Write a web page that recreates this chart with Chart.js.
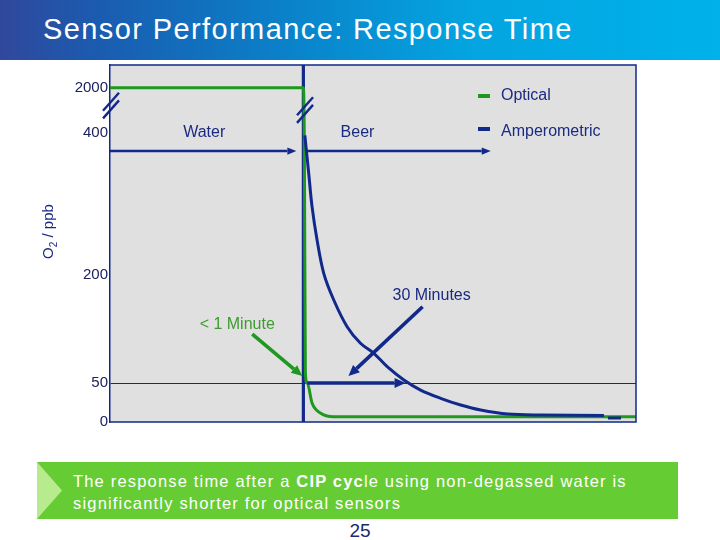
<!DOCTYPE html>
<html><head><meta charset="utf-8">
<script src="https://cdn.jsdelivr.net/npm/chart.js@4.4.1/dist/chart.umd.min.js"></script>
<style>
html,body{margin:0;padding:0;background:#fff;width:720px;height:540px;overflow:hidden;font-family:'Liberation Sans',Arial,sans-serif;}
#title{position:absolute;left:0;top:0;width:720px;height:60px;background:linear-gradient(90deg,#30489c 0%,#1a5cb0 14%,#0a82ca 40%,#04a4e0 65%,#00b2ea 100%);}
#title span{position:absolute;left:43px;top:15px;font-size:29px;line-height:29px;letter-spacing:1.4px;color:#fff;white-space:nowrap;}
#chartWrap{position:absolute;left:0;top:60px;width:720px;height:400px;}
#note{position:absolute;left:37px;top:462px;width:641px;height:57px;background:#66cc33;}
#tri{position:absolute;left:0;top:0;width:25px;height:57px;background:#b8ea8e;clip-path:polygon(0 0,100% 50%,0 100%);}
#note p{position:absolute;left:36px;top:8px;margin:0;color:#fff;font-size:16.5px;line-height:22px;letter-spacing:1.18px;white-space:nowrap;}
#page{position:absolute;left:0;width:720px;top:520px;text-align:center;font-family:'Liberation Sans Narrow','Arial Narrow','Liberation Sans',sans-serif;font-size:19px;line-height:22px;color:#1a2a6c;}
</style></head>
<body>
<div id="title"><span>Sensor Performance: Response Time</span></div>
<div id="chartWrap"><canvas id="c" width="720" height="400"></canvas></div>
<div id="note"><div id="tri"></div><p>The response time after a <b>CIP cyc</b>le using non-degassed water is<br>significantly shorter for optical sensors</p></div>
<div id="page">25</div>
<script>
// ---- data (time in minutes, O2 in ppb) ----
const opticalTime = [0, 57.9, 58.2, 58.5, 59.1, 60.5, 63.0, 66.9, 157.5];
const opticalPpb  = [2000, 2000, 380, 64, 50, 24.5, 11.6, 6.8, 6.8];
const amperoTime  = [58.35, 58.8, 59.5, 60.5, 62.0, 64.0, 67.0, 71.0, 75.0, 79.0, 83.0, 88.0, 93.0, 99.0, 105.0, 111.0, 119.1, 129.0, 147.9, 148.5, 149.1, 153];
const amperoPpb   = [396, 375, 342.7, 295.9, 249.1, 202.4, 165.4, 128.4, 105.4, 91.6, 73.0, 54.6, 41.3, 30.6, 22.0, 15.5, 10.3, 9.0, 8.4, null, 5.2, 5.2];
const switchTime  = 57.9;           // water -> beer changeover
const yTickValues = [0, 50, 200, 400, 2000];
const yTickLabels = ['0', '50', '200', '400', '2000'];
const seriesLabels = ['Optical', 'Amperometric'];

// broken y axis: piecewise mapping of ppb onto the axis
const Y_BREAK_REAL = [0, 50, 200, 400, 2000];
const Y_BREAK_AXIS = [0, 38.7, 147, 289.5, 334.3];
const Y_AXIS_MAX = 357;
function toAxis(v){
  if (v === null) return null;
  const R = Y_BREAK_REAL, A = Y_BREAK_AXIS;
  for (let i = 0; i < R.length - 1; i++) {
    if (v <= R[i+1]) return A[i] + (v - R[i]) * (A[i+1]-A[i]) / (R[i+1]-R[i]);
  }
  const n = R.length - 1;
  return A[n] + (v - R[n]) * (A[n]-A[n-1]) / (R[n]-R[n-1]);
}

// annotations (data units)
const arrowLines = [
  {from:[0,374], to:[55.8,374], kind:'thin'},
  {from:[58.8,374], to:[114,374], kind:'thin'},
  {from:[59.1,50.5], to:[88.5,50.5], kind:'thick'},
  {from:[93.6,156], to:[71.4,60], kind:'thick'},
  {from:[42.6,118], to:[57.6,60], kind:'thickGreen'}
];
const textNotes = [
  {text:'Water', at:[28.2,400], green:false},
  {text:'Beer', at:[74.1,400], green:false},
  {text:'30 Minutes', at:[96.3,171], green:false},
  {text:'< 1 Minute', at:[38.1,132], green:true}
];
const breakMarks = [[0,1360],[58.1,1200]];

const NAVY = '#10298a', GREEN = '#1f981f', LABEL_GREEN = '#3d9b2f', TEXT_NAVY = '#1a2a80', PLOT_BG = '#e0e0e0';
const FONT = "'Liberation Sans', Arial, sans-serif";

function pts(xs, ys){ return xs.map((x,i)=>({x:x, y:toAxis(ys[i])})); }

function arrow(ctx,x1,y1,x2,y2,color,w,len,hw){
  const a = Math.atan2(y2-y1,x2-x1);
  const bx = x2-len*Math.cos(a), by = y2-len*Math.sin(a);
  ctx.strokeStyle=color; ctx.lineWidth=w; ctx.lineCap='butt';
  ctx.beginPath(); ctx.moveTo(x1,y1); ctx.lineTo(bx,by); ctx.stroke();
  ctx.fillStyle=color; ctx.beginPath(); ctx.moveTo(x2,y2);
  ctx.lineTo(bx+hw*Math.sin(a), by-hw*Math.cos(a));
  ctx.lineTo(bx-hw*Math.sin(a), by+hw*Math.cos(a));
  ctx.closePath(); ctx.fill();
}

const annot = {
  id:'annot',
  beforeDraw(chart){
    const {ctx, chartArea:a} = chart;
    ctx.save(); ctx.fillStyle = PLOT_BG;
    ctx.fillRect(a.left, a.top, a.right-a.left, a.bottom-a.top); ctx.restore();
  },
  afterDraw(chart){
    const {ctx, chartArea:a} = chart;
    const xs = chart.scales.x, ys = chart.scales.y;
    const px = t => xs.getPixelForValue(t), py = v => ys.getPixelForValue(toAxis(v));
    ctx.save();
    // frame
    ctx.strokeStyle = NAVY; ctx.lineWidth = 1.5;
    ctx.beginPath(); ctx.moveTo(a.left, a.top); ctx.lineTo(a.right, a.top); ctx.lineTo(a.right, a.bottom); ctx.lineTo(a.left, a.bottom); ctx.stroke();
    // arrows
    arrowLines.forEach(ar => {
      const c = ar.kind === 'thickGreen' ? GREEN : NAVY;
      if (ar.kind === 'thin') arrow(ctx, px(ar.from[0]), py(ar.from[1]), px(ar.to[0]), py(ar.to[1]), c, 2.5, 9, 3.6);
      else arrow(ctx, px(ar.from[0]), py(ar.from[1]), px(ar.to[0]), py(ar.to[1]), c, 3.6, 11, 5);
    });
    // text notes
    ctx.font = '16px ' + FONT; ctx.textAlign = 'center'; ctx.textBaseline = 'middle';
    textNotes.forEach(n => { ctx.fillStyle = n.green ? LABEL_GREEN : TEXT_NAVY; ctx.fillText(n.text, px(n.at[0]), py(n.at[1])); });
    // axis break marks
    ctx.strokeStyle = NAVY; ctx.lineWidth = 2.4;
    breakMarks.forEach(b => {
      const cx = px(b[0]) + 1, cy = py(b[1]);
      [-3.8, 3.8].forEach(k => { ctx.beginPath(); ctx.moveTo(cx-8, cy+9+k); ctx.lineTo(cx+8, cy-9+k); ctx.stroke(); });
    });
    // legend
    const lx = a.right - 158;
    const legend = [{c:GREEN, dy:31, ty:31}, {c:NAVY, dy:64, ty:67}];
    ctx.textAlign = 'left'; ctx.font = '16px ' + FONT;
    legend.forEach((l,i) => {
      ctx.fillStyle = l.c; ctx.fillRect(lx, a.top + l.dy - 2, 12, 4);
      ctx.fillStyle = TEXT_NAVY; ctx.fillText(seriesLabels[i], lx + 23, a.top + l.ty);
    });
    // y axis title: O2 / ppb
    ctx.translate(53, 171.5); ctx.rotate(-Math.PI/2);
    ctx.textBaseline = 'alphabetic'; ctx.fillStyle = TEXT_NAVY;
    ctx.font = '15px ' + FONT; const wO = ctx.measureText('O').width, wR = ctx.measureText(' / ppb').width;
    ctx.font = '10px ' + FONT; const w2 = ctx.measureText('2').width;
    let x0 = -(wO + w2 + wR)/2;
    ctx.font = '15px ' + FONT; ctx.fillText('O', x0, 0);
    ctx.font = '10px ' + FONT; ctx.fillText('2', x0 + wO, 4);
    ctx.font = '15px ' + FONT; ctx.fillText(' / ppb', x0 + wO + w2, 0);
    ctx.restore();
  }
};

new Chart(document.getElementById('c'), {
  type: 'line',
  data: {
    datasets: [
      {label: seriesLabels[1], data: pts(amperoTime, amperoPpb), borderColor: NAVY, borderWidth: 3, pointRadius: 0, tension: 0.35, spanGaps: false},
      {label: seriesLabels[0], data: pts(opticalTime, opticalPpb), borderColor: GREEN, borderWidth: 3, pointRadius: 0, cubicInterpolationMode: 'monotone'},
      {label: 'switch', data: [{x: switchTime, y: 0}, {x: switchTime, y: Y_AXIS_MAX}], borderColor: NAVY, borderWidth: 3.2, pointRadius: 0}
    ]
  },
  options: {
    responsive: false, animation: false,
    layout: {padding: {left: 0, top: 5, right: 84, bottom: 38}},
    plugins: {legend: {display: false}, tooltip: {enabled: false}, title: {display: false}},
    scales: {
      x: {type: 'linear', min: 0, max: 157.5, display: false},
      y: {
        type: 'linear', min: 0, max: Y_AXIS_MAX,
        afterBuildTicks: s => { s.ticks = yTickValues.map(v => ({value: toAxis(v)})); },
        afterFit: s => { s.width = 110; s.paddingTop = 0; s.paddingBottom = 0; },
        ticks: {callback: (v, i) => yTickLabels[i], color: '#1c2260', font: {family: FONT, size: 15}, padding: 2},
        grid: {drawTicks: false, color: c => (c.index === 1 ? NAVY : 'rgba(0,0,0,0)'), lineWidth: 1},
        border: {display: true, color: NAVY, width: 1.5}
      }
    }
  },
  plugins: [annot]
});
</script>
</body></html>
